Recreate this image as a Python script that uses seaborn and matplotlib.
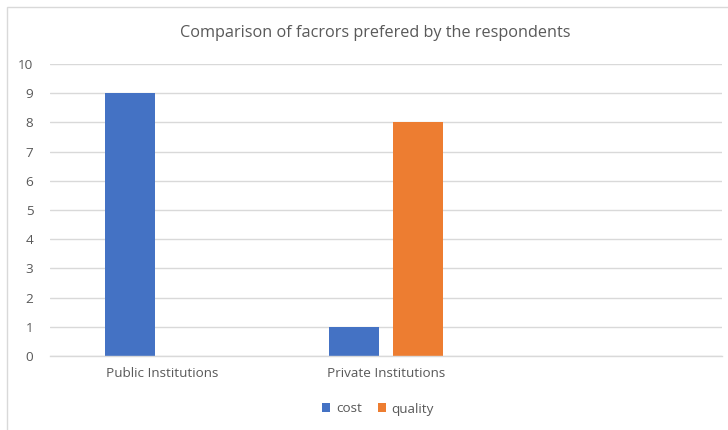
import matplotlib
matplotlib.use("Agg")
import matplotlib.pyplot as plt
import seaborn as sns
import pandas as pd
import numpy as np
from matplotlib.patches import Rectangle

categories = ["Public Institutions", "Private Institutions", " "]
cost = [9, 1, np.nan]
quality = [0, 8, np.nan]
series = ["cost", "quality"]
colors = ["#4472C4", "#ED7D31"]
yticks = list(range(0, 11))

df = pd.DataFrame({
    "category": categories * 2,
    "series": ["cost"] * 3 + ["quality"] * 3,
    "value": cost + quality,
})

sns.set_theme(style="white")
plt.rcParams['font.family'] = ['Open Sans', 'DejaVu Sans']
text_color = "#595959"

fig = plt.figure(figsize=(7.28, 4.30), dpi=100)
ax = fig.add_axes([50/728, 1-356/430, 672/728, 292/430])

sns.barplot(data=df, x="category", y="value", hue="series", order=categories,
            hue_order=series, palette=colors, saturation=1, width=0.571, gap=0.22,
            linewidth=0, ax=ax, legend=True)

ax.set_ylim(0, 10)
ax.set_xlim(-0.5, 2.5)
ax.set_yticks(yticks)
ax.set_yticklabels([str(t) for t in yticks], fontsize=9.7, color=text_color)
ax.tick_params(axis="x", labelsize=9.7, labelcolor=text_color, length=0, pad=8)
ax.tick_params(axis="y", length=0, pad=12)
ax.set_xlabel("")
ax.set_ylabel("")
ax.grid(axis="y", color="#D9D9D9", linewidth=1)
ax.set_axisbelow(True)
for s in ["top", "right", "left"]:
    ax.spines[s].set_visible(False)
ax.spines["bottom"].set_color("#D9D9D9")
ax.spines["bottom"].set_linewidth(1)

fig.text(375/728, 1-33/430, "Comparison of facrors prefered by the respondents",
         ha="center", va="center", fontsize=11.7, color=text_color)

handles, labels = ax.get_legend_handles_labels()
ax.legend(handles, labels, loc="center", bbox_to_anchor=(378/728, 1-409/430),
          bbox_transform=fig.transFigure, ncol=2, frameon=False,
          fontsize=9.7, labelcolor=text_color, handlelength=0.6, handleheight=0.6,
          handletextpad=0.4, columnspacing=1.2)

fig.patches.append(Rectangle((7/728, -0.01), 1.0, 1-7/430 + 0.01, transform=fig.transFigure,
                             fill=False, edgecolor="#D9D9D9", linewidth=1))

fig.savefig("out.png", dpi=100)
